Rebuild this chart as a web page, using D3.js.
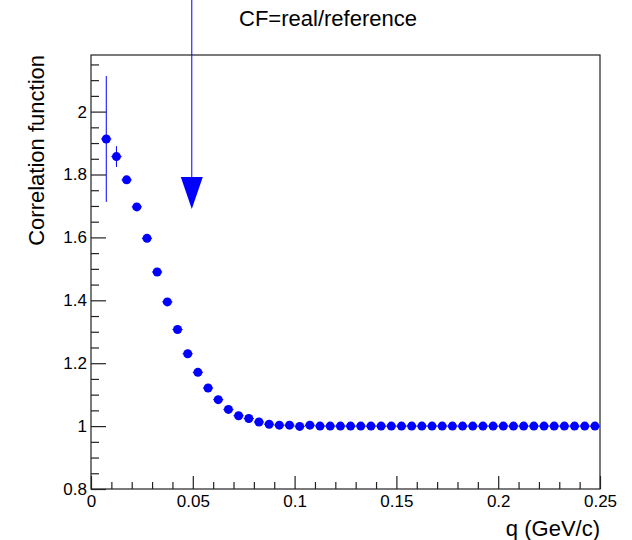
<!DOCTYPE html>
<html>
<head>
<meta charset="utf-8">
<script src="https://cdn.jsdelivr.net/npm/d3@7"></script>
<style>
  body { margin: 0; background: #fff; }
  text { font-family: "Liberation Sans", Arial, sans-serif; fill: #000; }
</style>
</head>
<body>
<div id="chart"></div>
<script>
// bin centres (bin width 0.005 GeV/c), first bin is empty
const qValues = [0.0075, 0.0125, 0.0175, 0.0225, 0.0275, 0.0325, 0.0375, 0.0425, 0.0475, 0.0525,
    0.0575, 0.0625, 0.0675, 0.0725, 0.0775, 0.0825, 0.0875, 0.0925, 0.0975, 0.1025,
    0.1075, 0.1125, 0.1175, 0.1225, 0.1275, 0.1325, 0.1375, 0.1425, 0.1475, 0.1525,
    0.1575, 0.1625, 0.1675, 0.1725, 0.1775, 0.1825, 0.1875, 0.1925, 0.1975, 0.2025,
    0.2075, 0.2125, 0.2175, 0.2225, 0.2275, 0.2325, 0.2375, 0.2425, 0.2475];
const cfValues = [1.913, 1.857, 1.783, 1.697, 1.597, 1.490, 1.395, 1.307, 1.230, 1.171,
    1.121, 1.084, 1.053, 1.033, 1.024, 1.013, 1.006, 1.003, 1.003, 0.999,
    1.003, 1.000, 1.000, 1.000, 1.000, 1.000, 1.000, 1.000, 1.000, 1.000,
    1.000, 1.000, 1.000, 1.000, 1.000, 1.000, 1.000, 1.000, 1.000, 1.000,
    1.000, 1.000, 1.000, 1.000, 1.000, 1.000, 1.000, 1.000, 1.000];
const cfErrors = [0.200, 0.033, 0.010, 0.007, 0.006, 0.005, 0.005, 0.004, 0.004, 0.003,
    0.003, 0.003, 0.003, 0.003, 0.002, 0.002, 0.002, 0.002, 0.002, 0.002,
    0.002, 0.002, 0.002, 0.002, 0.002, 0.002, 0.002, 0.002, 0.002, 0.002,
    0.002, 0.002, 0.002, 0.002, 0.002, 0.002, 0.002, 0.002, 0.002, 0.002,
    0.002, 0.002, 0.002, 0.002, 0.002, 0.002, 0.002, 0.002, 0.002];
const qHalfWidth = 0.0025;

const xMajorTicks = [0, 0.05, 0.1, 0.15, 0.2, 0.25];
const xTickLabels = ["0", "0.05", "0.1", "0.15", "0.2", "0.25"];
const xMinorTicks = [0.01, 0.02, 0.03, 0.04, 0.06, 0.07, 0.08, 0.09, 0.11, 0.12, 0.13, 0.14,
    0.16, 0.17, 0.18, 0.19, 0.21, 0.22, 0.23, 0.24];
const yMajorTicks = [0.8, 1.0, 1.2, 1.4, 1.6, 1.8, 2.0];
const yTickLabels = ["0.8", "1", "1.2", "1.4", "1.6", "1.8", "2"];
const yMinorTicks = [0.85, 0.9, 0.95, 1.05, 1.1, 1.15, 1.25, 1.3, 1.35, 1.45, 1.5, 1.55,
    1.65, 1.7, 1.75, 1.85, 1.9, 1.95, 2.05, 2.1, 2.15];

// arrow marking q = 0.05
const arrowQ = 0.0495;
const arrowFrom = 2.40;
const arrowTo = 1.69;

const width = 632, height = 540;
const margin = { top: 55, right: 32, bottom: 51, left: 91 };

const svg = d3.select("#chart").append("svg")
    .attr("width", width)
    .attr("height", height);

const x = d3.scaleLinear().domain([0, 0.25]).range([margin.left, width - margin.right]);
const y = d3.scaleLinear().domain([0.8, 2.18]).range([height - margin.bottom, margin.top]);

const axisColor = "#222";

// frame
svg.append("rect")
    .attr("x", margin.left)
    .attr("y", margin.top)
    .attr("width", width - margin.left - margin.right)
    .attr("height", height - margin.top - margin.bottom)
    .attr("fill", "none")
    .attr("stroke", axisColor)
    .attr("stroke-width", 1.2);

// minor ticks, pointing into the frame
svg.append("g")
    .attr("transform", `translate(0,${height - margin.bottom})`)
    .call(d3.axisBottom(x).tickValues(xMinorTicks).tickSize(-7).tickFormat(""))
    .call(g => g.select(".domain").remove());
svg.append("g")
    .attr("transform", `translate(${margin.left},0)`)
    .call(d3.axisLeft(y).tickValues(yMinorTicks).tickSize(-8).tickFormat(""))
    .call(g => g.select(".domain").remove());

// major ticks with labels
const xAxis = svg.append("g")
    .attr("transform", `translate(0,${height - margin.bottom})`)
    .call(d3.axisBottom(x).tickValues(xMajorTicks).tickSize(-13).tickPadding(6)
        .tickFormat((d, i) => xTickLabels[i]));
const yAxis = svg.append("g")
    .attr("transform", `translate(${margin.left},0)`)
    .call(d3.axisLeft(y).tickValues(yMajorTicks).tickSize(-15).tickPadding(4)
        .tickFormat((d, i) => yTickLabels[i]));

[xAxis, yAxis].forEach(g => {
    g.select(".domain").remove();
    g.selectAll("text").attr("font-size", 17).attr("font-family", "Liberation Sans, Arial, sans-serif");
});
svg.selectAll(".tick line").attr("stroke", axisColor).attr("stroke-width", 1.2);

// data
const points = qValues.map((q, i) => ({ q: q, cf: cfValues[i], err: cfErrors[i] }));

const errs = svg.append("g").attr("stroke", "blue").attr("stroke-width", 1);
errs.selectAll("line.h")
    .data(points)
    .join("line")
    .attr("class", "h")
    .attr("x1", d => x(d.q - qHalfWidth))
    .attr("x2", d => x(d.q + qHalfWidth))
    .attr("y1", d => y(d.cf))
    .attr("y2", d => y(d.cf));
errs.selectAll("line.v")
    .data(points)
    .join("line")
    .attr("class", "v")
    .attr("x1", d => x(d.q))
    .attr("x2", d => x(d.q))
    .attr("y1", d => y(d.cf - d.err))
    .attr("y2", d => y(d.cf + d.err));

svg.append("g")
    .selectAll("circle")
    .data(points)
    .join("circle")
    .attr("cx", d => x(d.q))
    .attr("cy", d => y(d.cf))
    .attr("r", 4.5)
    .attr("fill", "blue");

// arrow
const ax = x(arrowQ);
const tipY = y(arrowTo);
const headLen = 32, headHalf = 11;
svg.append("line")
    .attr("x1", ax).attr("x2", ax)
    .attr("y1", y(arrowFrom)).attr("y2", tipY - headLen)
    .attr("stroke", "blue")
    .attr("stroke-width", 1);
svg.append("path")
    .attr("d", `M${ax - headHalf},${tipY - headLen}L${ax + headHalf},${tipY - headLen}L${ax},${tipY}Z`)
    .attr("fill", "blue");

// titles
svg.append("text")
    .attr("x", 328)
    .attr("y", 26)
    .attr("text-anchor", "middle")
    .attr("font-size", 22)
    .text("CF=real/reference");

svg.append("text")
    .attr("x", width - margin.right)
    .attr("y", 536)
    .attr("text-anchor", "end")
    .attr("font-size", 22)
    .text("q (GeV/c)");

svg.append("text")
    .attr("transform", `translate(44,${margin.top}) rotate(-90)`)
    .attr("text-anchor", "end")
    .attr("font-size", 22)
    .text("Correlation function");
</script>
</body>
</html>
